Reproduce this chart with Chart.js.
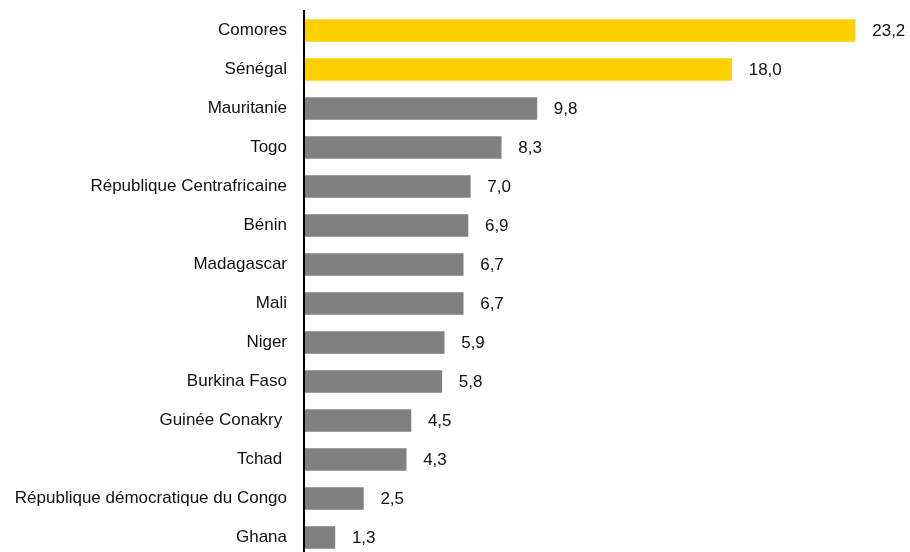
<!DOCTYPE html>
<html>
<head>
<meta charset="utf-8">
<script src="https://cdn.jsdelivr.net/npm/chart.js@4/dist/chart.umd.min.js"></script>
<style>
  html, body { margin: 0; padding: 0; background: #fff; overflow: hidden; }
  #wrap { position: relative; width: 910px; height: 560px; }
</style>
</head>
<body>
<div id="wrap"><canvas id="bars"></canvas></div>
<script>
// Countries, top to bottom
const countries = [
    'Comores', 'Sénégal', 'Mauritanie', 'Togo', 'République Centrafricaine',
    'Bénin', 'Madagascar', 'Mali', 'Niger', 'Burkina Faso',
    'Guinée Conakry ', 'Tchad ', 'République démocratique du Congo', 'Ghana'
];
const values = [23.2, 18.0, 9.8, 8.3, 7.0, 6.9, 6.7, 6.7, 5.9, 5.8, 4.5, 4.3, 2.5, 1.3];
const highlighted = ['Comores', 'Sénégal'];

const yellow = '#FFD000';
const grey = '#808080';
const textColor = '#111111';
const font = { family: "'Liberation Sans', Arial, sans-serif", size: 17 };

// writes "23,2" style numbers just right of each bar
const valueLabels = {
    id: 'valueLabels',
    afterDatasetsDraw(chart) {
        const ctx = chart.ctx;
        const meta = chart.getDatasetMeta(0);
        ctx.save();
        ctx.font = font.size + 'px ' + font.family;
        ctx.fillStyle = textColor;
        ctx.textAlign = 'left';
        ctx.textBaseline = 'middle';
        meta.data.forEach((bar, i) => {
            let txt = values[i].toFixed(1).replace('.', ',');
            ctx.fillText(txt, bar.x + 17, bar.y + 1);
        });
        ctx.restore();
    }
};

const ctx = document.getElementById('bars').getContext('2d');

new Chart(ctx, {
    type: 'bar',
    data: {
        labels: countries,
        datasets: [{
            data: values,
            backgroundColor: countries.map(c => highlighted.includes(c.trim()) ? yellow : grey),
            barThickness: 22,
            borderWidth: 0
        }]
    },
    options: {
        indexAxis: 'y',
        responsive: true,
        maintainAspectRatio: false,
        animation: false,
        layout: { padding: { top: 11, right: 12, bottom: 3, left: 0 } },
        plugins: {
            legend: { display: false },
            tooltip: { enabled: false }
        },
        scales: {
            x: {
                display: false,
                min: 0,
                max: 25
            },
            y: {
                afterFit(scale) {
                    scale.width = 304;
                    // no extra room above/below for the label overhang
                    scale.paddingTop = 0;
                    scale.paddingBottom = 0;
                },
                grid: { display: false, drawTicks: false },
                border: { display: true, color: '#000', width: 2, z: 1 },
                ticks: {
                    color: textColor,
                    font: font,
                    padding: 17,
                    autoSkip: false
                }
            }
        }
    },
    plugins: [valueLabels]
});
</script>
</body>
</html>
